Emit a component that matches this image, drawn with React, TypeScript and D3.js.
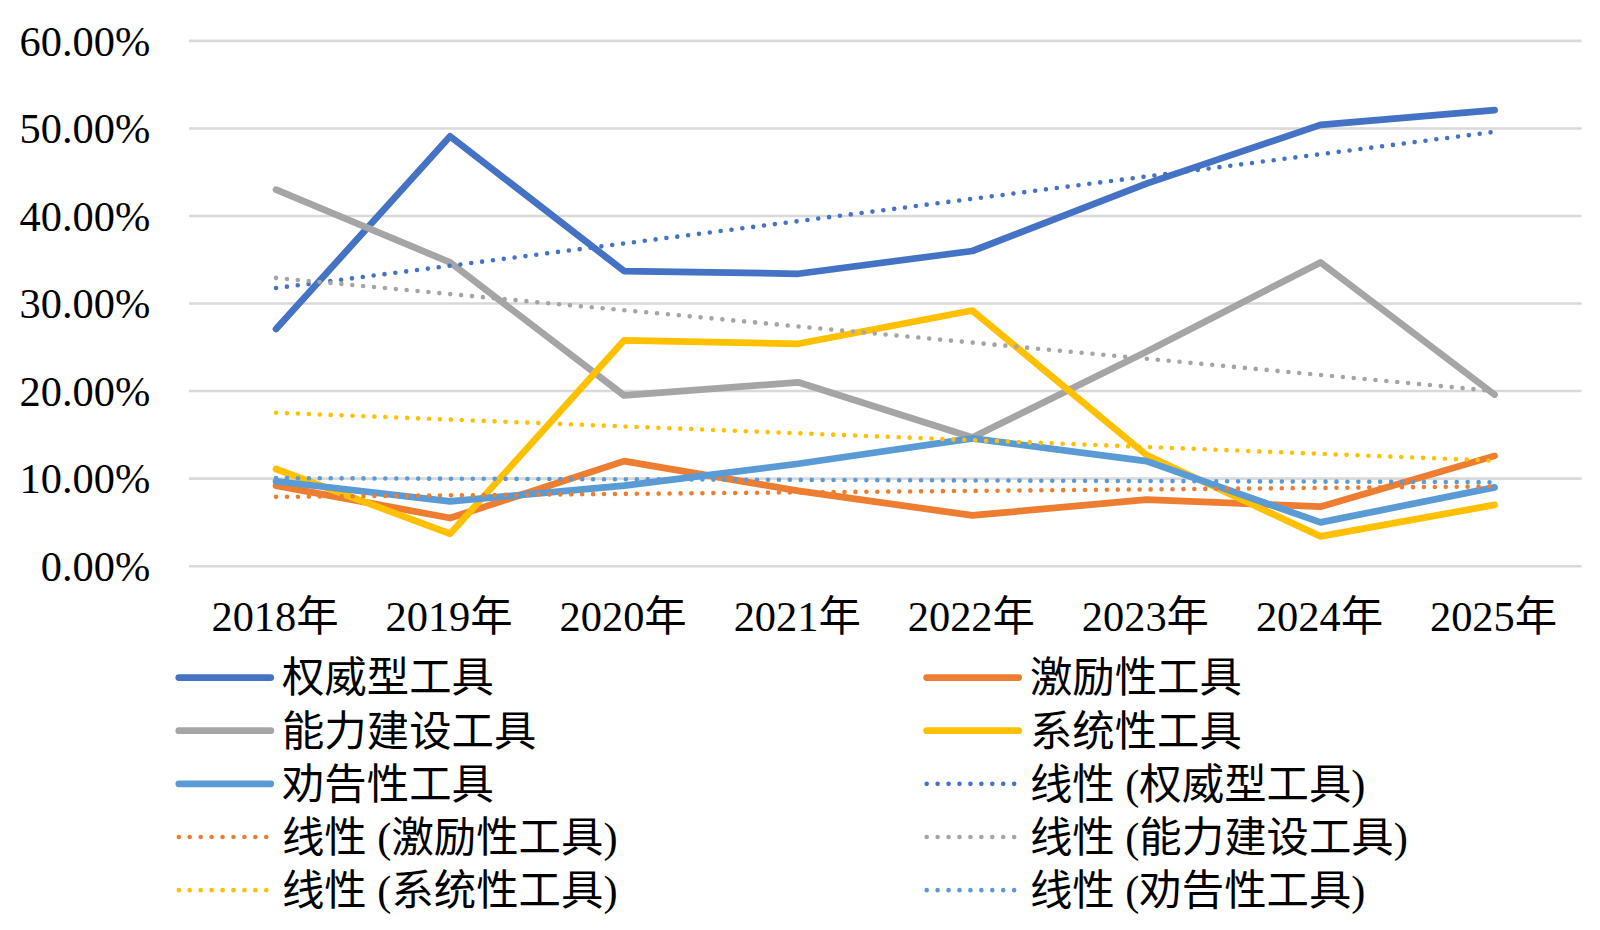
import React from "react";
import * as d3 from "d3";

const years = ["2018年", "2019年", "2020年", "2021年", "2022年", "2023年", "2024年", "2025年"];
const authority = [27.1, 49.1, 33.7, 33.4, 36.0, 43.7, 50.4, 52.1];
const incentive = [9.2, 5.5, 12.0, 8.6, 5.8, 7.6, 6.8, 12.6];
const capacity = [43.0, 34.7, 19.5, 21.0, 14.7, 24.5, 34.7, 19.6];
const systemic = [11.1, 3.7, 25.8, 25.4, 29.2, 12.7, 3.4, 7.0];
const persuasion = [9.7, 7.4, 9.2, 11.7, 14.6, 12.0, 5.0, 9.0];
const yTicks = [0, 10, 20, 30, 40, 50, 60];

const seriesNames = ["权威型工具", "激励性工具", "能力建设工具", "系统性工具", "劝告性工具"];
const seriesValues = [authority, incentive, capacity, systemic, persuasion];
const seriesColors = ["#4472C4", "#ED7D31", "#A5A5A5", "#FFC000", "#5B9BD5"];

function linFit(v: number[]) {
  const n = v.length;
  const mx = (n - 1) / 2;
  const my = d3.mean(v) as number;
  let num = 0, den = 0;
  v.forEach((y, i) => { num += (i - mx) * (y - my); den += (i - mx) * (i - mx); });
  const b = num / den;
  const a = my - b * mx;
  return [a, a + b * (n - 1)];
}

const FONT = "'Liberation Serif', 'Times New Roman', 'Noto Sans CJK SC', serif";

export default function App() {
  const W = 1600, H = 930;
  const VW = 1566, VH = 910;
  const left = 185, right = 1548, top = 40, bottom = 554;
  const x = d3.scaleBand<string>().domain(years).range([left, right]);
  const y = d3.scaleLinear().domain([0, 60]).range([bottom, top]);
  const cx = (i: number) => (x(years[i]) as number) + x.bandwidth() / 2;
  const line = d3.line<number>().x((_, i) => cx(i)).y((d) => y(d));

  const legendItems: { label: string; color: string; dotted: boolean }[] = [];
  seriesNames.forEach((n, i) => legendItems.push({ label: n, color: seriesColors[i], dotted: false }));
  seriesNames.forEach((n, i) => legendItems.push({ label: `线性 (${n})`, color: seriesColors[i], dotted: true }));

  const colX = [172, 904];
  const rowY = [663, 715, 767, 819, 871];
  const fs = 41.5;

  return (
    <svg width={W} height={H} viewBox={`0 0 ${VW} ${VH}`} preserveAspectRatio="none" style={{ position: "absolute", left: 0, top: 0, background: "#fff" }} fontFamily={FONT}>
      <rect width={VW} height={VH} fill="#fff" />
      {yTicks.map((t) => (
        <g key={t}>
          <line x1={left} x2={right} y1={y(t)} y2={y(t)} stroke="#D9D9D9" strokeWidth={2.5} />
          <text x={147} y={y(t)} dy="0.35em" textAnchor="end" fontSize={fs} fill="#000">
            {t.toFixed(2)}%
          </text>
        </g>
      ))}
      {years.map((yr, i) => (
        <text key={yr} x={cx(i) - 1} y={617} textAnchor="middle" fontSize={fs} fill="#000">{yr}</text>
      ))}
      {seriesValues.map((v, i) => (
        <path key={"s" + i} d={line(v) as string} fill="none" stroke={seriesColors[i]} strokeWidth={6.6} strokeLinejoin="round" strokeLinecap="round" />
      ))}
      {seriesValues.map((v, i) => {
        const [a, b] = linFit(v);
        return (
          <line key={"t" + i} x1={cx(0)} x2={cx(v.length - 1)} y1={y(a)} y2={y(b)} stroke={seriesColors[i]} strokeWidth={4.5} strokeDasharray="0 10.7" strokeLinecap="round" />
        );
      })}
      {legendItems.map((it, k) => {
        const col = k % 2;
        const row = Math.floor(k / 2);
        const lx = colX[col];
        const ly = rowY[row];
        return (
          <g key={"l" + k}>
            <line x1={lx + 3} x2={lx + 93} y1={ly} y2={ly} stroke={it.color} strokeWidth={it.dotted ? 4.5 : 6.6} strokeLinecap="round" strokeDasharray={it.dotted ? "0 10.7" : undefined} />
            <text x={lx + 104} y={ly} dy="0.35em" fontSize={fs} fill="#000">{it.label}</text>
          </g>
        );
      })}
    </svg>
  );
}
